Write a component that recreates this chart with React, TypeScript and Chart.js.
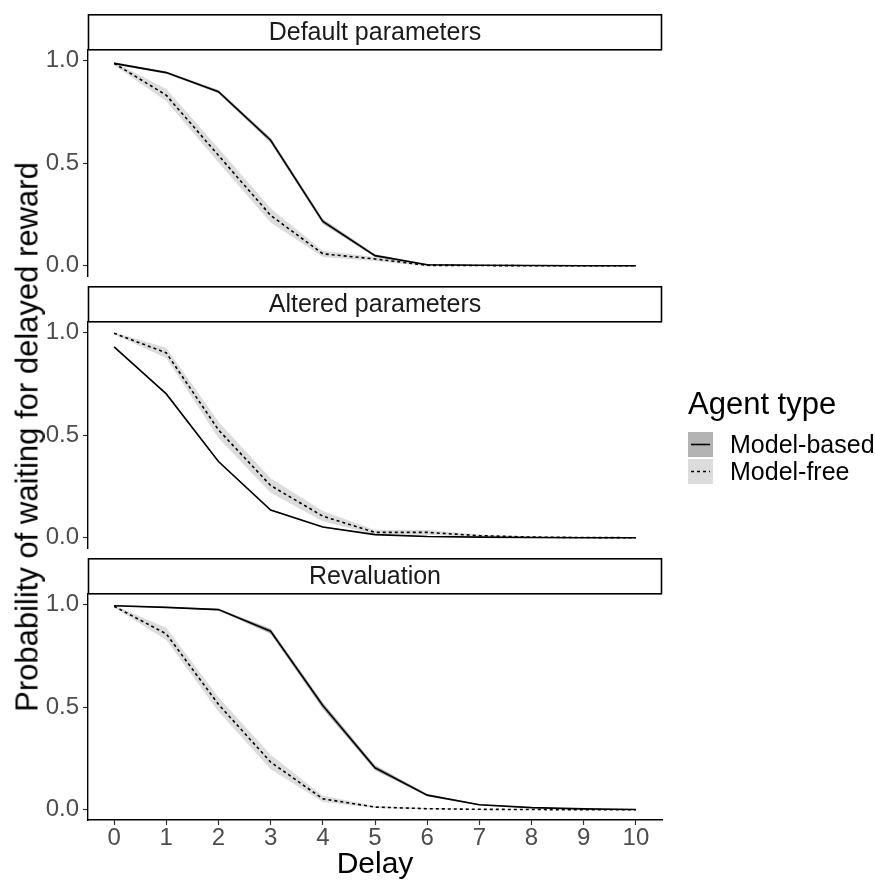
import React, { useEffect, useRef } from 'react';
import { Chart, registerables } from 'chart.js';

Chart.register(...registerables);

const FONT = '"Liberation Sans", Arial, Helvetica, sans-serif';

// ---- data ----
const delays = [0, 1, 2, 3, 4, 5, 6, 7, 8, 9, 10];
const xTickValues = [0, 1, 2, 3, 4, 5, 6, 7, 8, 9, 10];
const yTickValues = [0, 0.5, 1.0];
const panelTitles = ['Default parameters', 'Altered parameters', 'Revaluation'];
const seriesNames = ['Model-based', 'Model-free'];
const legendTitle = 'Agent type';
const xTitle = 'Delay';
const yTitle = 'Probability of waiting for delayed reward';

// Default parameters
const defaultMB = [0.985, 0.94, 0.847, 0.611, 0.216, 0.049, 0.005, 0.002, 0.001, 0, 0];
const defaultMBErr = [0.005, 0.005, 0.008, 0.012, 0.012, 0.007, 0.003, 0.001, 0, 0, 0];
const defaultMF = [0.985, 0.83, 0.537, 0.245, 0.058, 0.033, 0.002, 0.001, 0, 0, 0];
const defaultMFErr = [0.008, 0.03, 0.035, 0.035, 0.015, 0.01, 0.005, 0.002, 0.001, 0, 0];

// Altered parameters
const alteredMB = [0.929, 0.70, 0.371, 0.135, 0.052, 0.015, 0.006, 0.003, 0.001, 0, 0];
const alteredMBErr = [0.003, 0.003, 0.003, 0.003, 0.003, 0.002, 0.002, 0.001, 0.001, 0, 0];
const alteredMF = [0.995, 0.90, 0.525, 0.254, 0.105, 0.026, 0.026, 0.01, 0.003, 0.001, 0];
const alteredMFErr = [0.005, 0.025, 0.04, 0.035, 0.025, 0.012, 0.012, 0.006, 0.003, 0.002, 0];

// Revaluation
const revalMB = [0.993, 0.985, 0.974, 0.869, 0.507, 0.204, 0.071, 0.024, 0.01, 0.004, 0.001];
const revalMBErr = [0.003, 0.003, 0.004, 0.012, 0.015, 0.012, 0.006, 0.004, 0.002, 0.001, 0];
const revalMF = [0.99, 0.856, 0.513, 0.232, 0.053, 0.013, 0.005, 0.002, 0.001, 0, 0];
const revalMFErr = [0.005, 0.03, 0.035, 0.035, 0.015, 0.005, 0.003, 0.001, 0, 0, 0];

const panelMB = [defaultMB, alteredMB, revalMB];
const panelMBErr = [defaultMBErr, alteredMBErr, revalMBErr];
const panelMF = [defaultMF, alteredMF, revalMF];
const panelMFErr = [defaultMFErr, alteredMFErr, revalMFErr];

// ---- styles ----
const MB_FILL = '#b3b3b3';
const MF_FILL = '#dcdcdc';
const STRIP_H = 36;
const PANEL_H = 226;
const CANVAS_W = 875;
const PLOT_LEFT = 88;
const PLOT_RIGHT = 662;
const X_AXIS_H = 64;
const panelTops = [14, 286, 558];

const stripPlugin = {
  id: 'strip',
  afterDraw(chart: any, _args: any, opts: any) {
    const { ctx, chartArea } = chart;
    const h = opts.height;
    const l = chartArea.left;
    const r = chartArea.right;
    const t = chartArea.top - h;
    ctx.save();
    ctx.fillStyle = '#ffffff';
    ctx.fillRect(l, t, r - l, h);
    ctx.strokeStyle = '#000000';
    ctx.lineWidth = 1.6;
    ctx.strokeRect(l + 0.5, t + 0.8, r - l - 1, h - 1);
    ctx.fillStyle = '#1a1a1a';
    ctx.font = `25px ${FONT}`;
    ctx.textAlign = 'center';
    ctx.textBaseline = 'middle';
    ctx.fillText(opts.text, (l + r) / 2, t + h / 2 + 1);
    ctx.restore();
  },
};

function pts(values: number[]) {
  return delays.map((d, i) => ({ x: d, y: values[i] }));
}
function band(values: number[], err: number[], sign: number) {
  return delays.map((d, i) => ({ x: d, y: values[i] + sign * err[i] }));
}

function Panel({ index, bottom }: { index: number; bottom: boolean }) {
  const ref = useRef<HTMLCanvasElement | null>(null);
  const height = STRIP_H + PANEL_H + (bottom ? X_AXIS_H : 20);
  useEffect(() => {
    if (!ref.current) return;
    const mb = panelMB[index];
    const mbe = panelMBErr[index];
    const mf = panelMF[index];
    const mfe = panelMFErr[index];
    const chart = new Chart(ref.current, {
      type: 'line',
      data: {
        datasets: [
          { label: 'mf-upper', data: band(mf, mfe, 1), fill: '+1', backgroundColor: MF_FILL, borderColor: 'transparent', borderWidth: 0, pointRadius: 0, order: 4 },
          { label: 'mf-lower', data: band(mf, mfe, -1), fill: false, borderColor: 'transparent', borderWidth: 0, pointRadius: 0, order: 4 },
          { label: 'mb-upper', data: band(mb, mbe, 1), fill: '+1', backgroundColor: MB_FILL, borderColor: 'transparent', borderWidth: 0, pointRadius: 0, order: 3 },
          { label: 'mb-lower', data: band(mb, mbe, -1), fill: false, borderColor: 'transparent', borderWidth: 0, pointRadius: 0, order: 3 },
          { label: seriesNames[0], data: pts(mb), fill: false, borderColor: '#000', borderWidth: 1.6, pointRadius: 0, order: 2 },
          { label: seriesNames[1], data: pts(mf), fill: false, borderColor: '#000', borderWidth: 1.6, borderDash: [3, 3], pointRadius: 0, order: 1 },
        ] as any,
      },
      options: {
        responsive: false,
        animation: false,
        events: [],
        layout: {
          padding: { left: 0, right: CANVAS_W - PLOT_RIGHT, top: STRIP_H, bottom: bottom ? 0 : 20 },
        },
        elements: { line: { tension: 0 } },
        plugins: {
          legend: { display: false },
          tooltip: { enabled: false },
          filler: { propagate: false },
          strip: { text: panelTitles[index], height: STRIP_H },
        } as any,
        scales: {
          x: {
            type: 'linear',
            min: -0.5,
            max: 10.5,
            display: bottom,
            afterBuildTicks: (s: any) => {
              s.ticks = xTickValues.map((v) => ({ value: v }));
            },
            afterFit: (s: any) => {
              s.height = bottom ? X_AXIS_H : 0;
            },
            grid: { display: true, drawOnChartArea: false, drawTicks: true, tickLength: 5, tickColor: '#333333', tickWidth: 1.2 },
            border: { display: true, color: '#000000', width: 1.4 },
            ticks: {
              color: '#4d4d4d',
              padding: 1,
              font: { family: FONT, size: 24, lineHeight: 1 },
              maxRotation: 0,
              autoSkip: false,
              callback: (v: any) => String(v),
            },
            title: {
              display: true,
              text: xTitle,
              color: '#000000',
              font: { family: FONT, size: 30 },
              padding: { top: 0, bottom: 1 },
            },
          },
          y: {
            type: 'linear',
            min: -0.05,
            max: 1.05,
            afterBuildTicks: (s: any) => {
              s.ticks = yTickValues.map((v) => ({ value: v }));
            },
            afterFit: (s: any) => {
              s.width = PLOT_LEFT;
            },
            grid: { display: true, drawOnChartArea: false, drawTicks: true, tickLength: 5, tickColor: '#333333', tickWidth: 1.2 },
            border: { display: true, color: '#000000', width: 1.4 },
            ticks: {
              color: '#4d4d4d',
              padding: 4,
              font: { family: FONT, size: 24 },
              callback: (v: any) => Number(v).toFixed(1),
            },
          },
        },
      } as any,
      plugins: [stripPlugin],
    });
    return () => chart.destroy();
  }, [index, bottom]);
  return (
    <canvas
      ref={ref}
      width={CANVAS_W}
      height={height}
      style={{ position: 'absolute', left: 0, top: panelTops[index], width: CANVAS_W, height }}
    />
  );
}

function LegendKey({ fill, dashed }: { fill: string; dashed: boolean }) {
  return (
    <svg width={25} height={25} style={{ display: 'block' }}>
      <rect x={0} y={0} width={25} height={25} fill={fill} />
      <line x1={3} y1={12.5} x2={22} y2={12.5} stroke="#000" strokeWidth={1.6} strokeDasharray={dashed ? '3 3' : undefined} />
    </svg>
  );
}

export default function App() {
  const legendFills = [MB_FILL, MF_FILL];
  const legendTops = [432, 459];
  return (
    <div style={{ position: 'absolute', left: 0, top: 0, width: 875, height: 884, background: '#fff', fontFamily: FONT, overflow: 'hidden' }}>
      <Panel index={0} bottom={false} />
      <Panel index={1} bottom={false} />
      <Panel index={2} bottom={true} />
      <div
        style={{
          position: 'absolute',
          left: 27,
          top: 437,
          transform: 'translate(-50%, -50%) rotate(-90deg)',
          whiteSpace: 'nowrap',
          fontSize: 31,
          lineHeight: '31px',
          color: '#000',
        }}
      >
        {yTitle}
      </div>
      <div style={{ position: 'absolute', left: 688, top: 388, fontSize: 31, lineHeight: '31px', color: '#000', whiteSpace: 'nowrap' }}>
        {legendTitle}
      </div>
      {seriesNames.map((name, i) => (
        <div key={name} style={{ position: 'absolute', left: 688, top: legendTops[i], height: 25, display: 'flex', alignItems: 'center' }}>
          <LegendKey fill={legendFills[i]} dashed={i === 1} />
          <span style={{ marginLeft: 17, fontSize: 25, lineHeight: '25px', color: '#000', whiteSpace: 'nowrap' }}>{name}</span>
        </div>
      ))}
    </div>
  );
}
